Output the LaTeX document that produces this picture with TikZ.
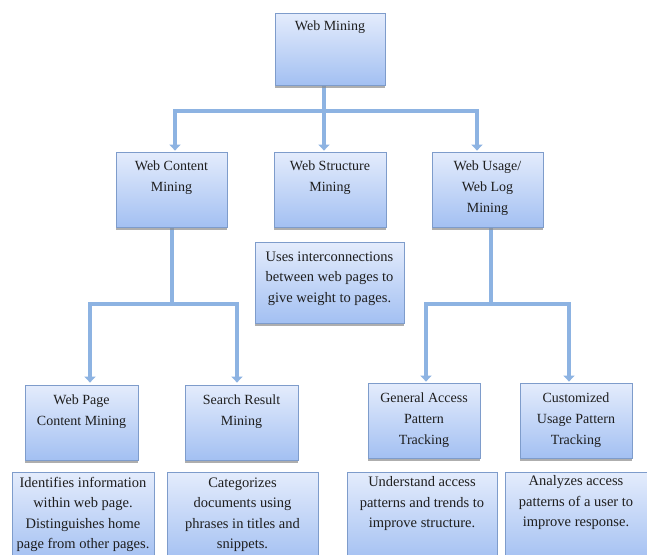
\documentclass[tikz,border=0pt]{standalone}
\usepackage{fontspec}
\setmainfont{Liberation Serif}
\usetikzlibrary{arrows.meta,shadows,backgrounds}
\definecolor{boxtop}{HTML}{E4ECFC}
\definecolor{boxbot}{HTML}{A3C0F2}
\definecolor{boxedge}{HTML}{7E9CCB}
\definecolor{connc}{HTML}{8DB3E2}
\definecolor{txtc}{HTML}{1E1E1E}
\tikzset{
  box/.style={draw=boxedge, line width=0.8pt, top color=boxtop, bottom color=boxbot,
    inner sep=0pt, drop shadow={shadow xshift=-0.5pt, shadow yshift=-2.5pt, fill=black!45, opacity=0.7}},
  head/.style={anchor=north, inner sep=0pt, align=center, text=txtc,
    font=\fontsize{14}{21}\selectfont},
  desc/.style={anchor=north, inner sep=0pt, align=center, text=txtc,
    font=\fontsize{14.5}{20.5}\selectfont},
  conn/.style={draw=connc, line width=4.5pt, line join=miter},
  arr/.style={conn, -{Triangle[width=11pt,length=6pt]}},
}
\begin{document}
\begin{tikzpicture}[x=1pt,y=-1pt]
\useasboundingbox (0,0) rectangle (647,554);
\begin{scope}
\clip (0,0) rectangle (647,554);
% boxes
\node[box, minimum width=110pt, minimum height=72pt] (wm) at (330,49) {};
\node[box, minimum width=111pt, minimum height=75pt] (wc) at (171.5,189.5) {};
\node[box, minimum width=112pt, minimum height=75pt] (ws) at (330,189.5) {};
\node[box, minimum width=111pt, minimum height=75pt] (wu) at (487.5,189.5) {};
\node[box, minimum width=149pt, minimum height=81pt] (us) at (329.5,282.5) {};
\node[box, minimum width=113pt, minimum height=75pt] (wp) at (81.5,422.5) {};
\node[box, minimum width=113pt, minimum height=75pt] (sr) at (241.5,422.5) {};
\node[box, minimum width=112pt, minimum height=75pt] (ga) at (424,420.5) {};
\node[box, minimum width=112pt, minimum height=75pt] (cu) at (576,420.5) {};
\node[box, minimum width=142pt, minimum height=90pt] (id) at (83,517) {};
\node[box, minimum width=151pt, minimum height=90pt] (ca) at (242.5,517) {};
\node[box, minimum width=150pt, minimum height=90pt] (un) at (422,517) {};
\node[box, minimum width=142pt, minimum height=90pt] (an) at (576,517) {};
% texts
\node[head] (wmt) at ([yshift=-8pt]wm.north) {Web Mining};
\node[head] (wct) at ([yshift=-9pt]wc.north) {Web Content\\Mining};
\node[head] (wst) at ([yshift=-9pt]ws.north) {Web Structure\\Mining};
\node[head] (wut) at ([yshift=-9pt]wu.north) {Web Usage/\\Web Log\\Mining};
\node[desc] (ust) at ([yshift=-10pt]us.north) {Uses interconnections\\between web pages to\\give weight to pages.};
\node[head] (wpt) at ([yshift=-10pt]wp.north) {Web Page\\Content Mining};
\node[head] (srt) at ([yshift=-10pt]sr.north) {Search Result\\Mining};
\node[head] (gat) at ([yshift=-10pt]ga.north) {General Access\\Pattern\\Tracking};
\node[head] (cut) at ([yshift=-10pt]cu.north) {Customized\\Usage Pattern\\Tracking};
\node[desc] (idt) at ([yshift=-5pt]id.north) {Identifies information\\within web page.\\Distinguishes home\\page from other pages.};
\node[desc] (cat) at ([yshift=-6pt]ca.north) {Categorizes\\documents using\\phrases in titles and\\snippets.};
\node[desc] (unt) at ([yshift=-5pt]un.north) {Understand access\\patterns and trends to\\improve structure.};
\node[desc] (ant) at ([yshift=-4pt]an.north) {Analyzes access\\patterns of a user to\\improve response.};
\end{scope}
% connectors
\begin{scope}[on background layer]
\coordinate (t1) at (324,111);
\coordinate (t2) at (172,304);
\coordinate (t3) at (491,304);
\draw[conn] ([xshift=-6pt]wm.south) -- (t1);
\draw[arr] (t1) -| ([xshift=3.5pt,yshift=1pt]wc.north);
\draw[arr] (t1) -- ([xshift=-6pt,yshift=1pt]ws.north);
\draw[arr] (t1) -| ([xshift=-10.5pt,yshift=1pt]wu.north);
\draw[conn] ([xshift=0.5pt]wc.south) -- (t2);
\draw[arr] (t2) -| ([xshift=8.5pt,yshift=2pt]wp.north);
\draw[arr] (t2) -| ([xshift=-4.5pt,yshift=2pt]sr.north);
\draw[conn] ([xshift=3.5pt]wu.south) -- (t3);
\draw[arr] (t3) -| ([xshift=2pt,yshift=1pt]ga.north);
\draw[arr] (t3) -| ([xshift=-7pt,yshift=1pt]cu.north);
\end{scope}
\end{tikzpicture}
\end{document}
